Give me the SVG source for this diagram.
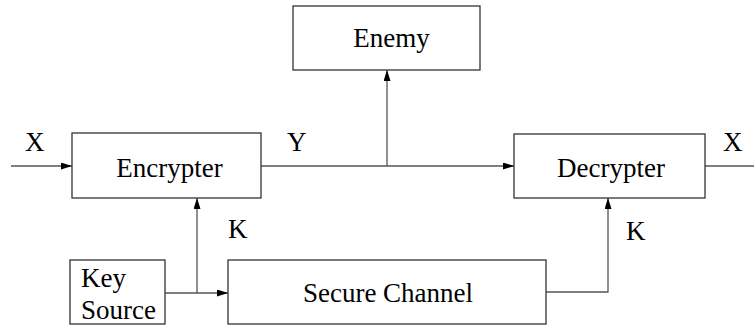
<svg xmlns="http://www.w3.org/2000/svg" width="754" height="326" viewBox="0 0 754 326">
  <style>
    .box { fill: #fff; stroke: #333; stroke-width: 1.3; }
    .wire { fill: none; stroke: #555; stroke-width: 1.3; }
    .lbl { font-family: 'Liberation Serif', 'Times New Roman', serif; font-size: 27px; fill: #000; }
    .mid { text-anchor: middle; }
  </style>
  <defs>
    <marker id="arrow" markerWidth="11" markerHeight="7" refX="11" refY="3.5" orient="auto" markerUnits="userSpaceOnUse">
      <path d="M0,0 L11,3.5 L0,7 Z" fill="#000"/>
    </marker>
  </defs>

  <g id="connectors">
    <line class="wire" x1="11" y1="166" x2="72" y2="166" marker-end="url(#arrow)"/>
    <line class="wire" x1="261" y1="166" x2="514" y2="166" marker-end="url(#arrow)"/>
    <line class="wire" x1="387" y1="166" x2="387" y2="70" marker-end="url(#arrow)"/>
    <line class="wire" x1="705" y1="166" x2="754" y2="166"/>
    <line class="wire" x1="165" y1="293" x2="228" y2="293" marker-end="url(#arrow)"/>
    <line class="wire" x1="197" y1="293" x2="197" y2="198" marker-end="url(#arrow)"/>
    <polyline class="wire" points="546,292 608,292 608,198" marker-end="url(#arrow)"/>
    <text class="lbl" x="25" y="151">X</text>
    <text class="lbl" x="287" y="151">Y</text>
    <text class="lbl" x="723" y="151">X</text>
    <text class="lbl" x="228" y="238">K</text>
    <text class="lbl" x="626" y="240">K</text>
  </g>

  <g id="enemy">
    <rect class="box" x="293" y="6" width="187" height="64"/>
    <text class="lbl mid" x="391.5" y="47">Enemy</text>
  </g>

  <g id="encrypter">
    <rect class="box" x="72" y="133" width="189" height="65"/>
    <text class="lbl mid" x="169.5" y="177">Encrypter</text>
  </g>

  <g id="decrypter">
    <rect class="box" x="514" y="134" width="191" height="64"/>
    <text class="lbl mid" x="611" y="177">Decrypter</text>
  </g>

  <g id="key-source">
    <rect class="box" x="70" y="260" width="95" height="64"/>
    <text class="lbl" x="81" y="287">Key</text>
    <text class="lbl" x="81" y="319">Source</text>
  </g>

  <g id="secure-channel">
    <rect class="box" x="228" y="260" width="318" height="64"/>
    <text class="lbl mid" x="388" y="302">Secure Channel</text>
  </g>
</svg>
